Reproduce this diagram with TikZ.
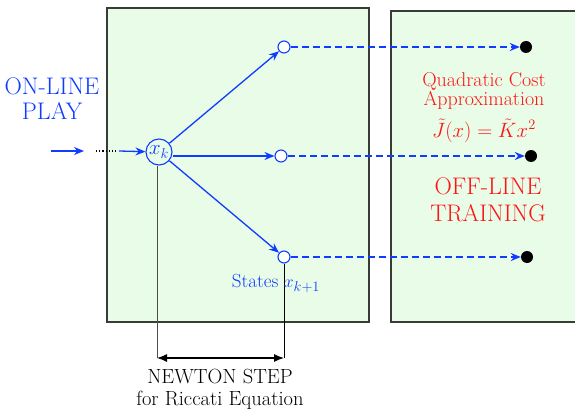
\documentclass[tikz,border=0pt]{standalone}
\usetikzlibrary{arrows.meta}
\definecolor{myblue}{RGB}{15,60,255}
\definecolor{myred}{RGB}{255,20,20}
\definecolor{boxfill}{RGB}{232,252,232}
\definecolor{boxline}{RGB}{55,60,55}
\begin{document}
\begin{tikzpicture}[x=1pt,y=-1pt,
  panel/.style={draw=boxline,line width=1.3pt,fill=boxfill},
  state/.style={circle,draw=myblue,line width=1.1pt,fill=white,minimum size=12pt,inner sep=0pt},
  cur/.style={circle,draw=myblue,line width=1.1pt,minimum size=26pt,inner sep=0pt,text=myblue},
  goal/.style={circle,fill=black,minimum size=12pt,inner sep=0pt},
  flow/.style={draw=myblue,line width=1.3pt,-{Stealth[length=10pt,width=8pt]}},
  dflow/.style={draw=myblue,line width=1.5pt,dash pattern=on 7pt off 4pt,-{Stealth[length=10pt,width=8pt]}},
  lbl/.style={align=center,inner sep=0pt}]
\useasboundingbox (0,0) rectangle (575,409);
\fill[white] (0,0) rectangle (575,409);
\draw[panel] (107,8) rectangle (369,322);
\draw[panel] (391,11) rectangle (585,322);
\node[cur,font=\fontsize{19.5}{20}\selectfont] (xk) at (159,152) {$x_k$};
\node[state] (s1) at (284,47) {};
\node[state] (s2) at (281,156) {};
\node[state] (s3) at (284,257) {};
\node[goal] (g1) at (526,47) {};
\node[goal] (g2) at (531,156) {};
\node[goal] (g3) at (527,257) {};
\coordinate (in0) at (51,151);
\coordinate (in1) at (84,151);
\coordinate (d0) at (96,151);
\coordinate (d1) at (116,151);
\coordinate (in2) at (119,151);
\coordinate (b0) at (157,358);
\coordinate (b1) at (284,358);
\draw[flow] (in0) -- (in1);
\draw[black,line width=1.2pt,dotted] (d0) -- (d1);
\draw[flow] (in2) -- (xk);
\draw[flow] (xk) -- (s1);
\draw[flow] (xk.east |- s2) -- (s2);
\draw[flow] (xk) -- (s3);
\draw[dflow] (s1) -- (g1);
\draw[dflow] (s2) -- (g2);
\draw[dflow] (s3) -- (g3);
\draw[black!70,line width=0.8pt] (xk.south -| b0) -- (b0);
\draw[black,line width=0.8pt] (s3.south) -- (b1);
\draw[black,line width=1.1pt,{Latex[length=10pt,width=8pt]}-{Latex[length=10pt,width=8pt]}] (b0) -- (b1);
\node[lbl,text=myblue,font=\fontsize{24}{25}\selectfont] (online) at (52,99) {ON-LINE\\PLAY};
\node[lbl,text=myblue,anchor=base,font=\fontsize{19}{20}\selectfont] (states) at (276,287) {States $x_{k+1}$};
\node[lbl,text=myred,font=\fontsize{20}{19.5}\selectfont] (qca) at (484,91) {Quadratic Cost\\Approximation};
\node[lbl,text=myred,anchor=base,font=\fontsize{20}{20}\selectfont] (jx) at (484,137.5) {$\tilde J(x)=\tilde K x^2$};
\node[lbl,text=myred,font=\fontsize{24}{27}\selectfont] (offline) at (488,200) {OFF-LINE\\TRAINING};
\node[lbl,text=black,font=\fontsize{20.5}{22}\selectfont] (newton) at (220,389) {NEWTON STEP\\for Riccati Equation};
\end{tikzpicture}
\end{document}
